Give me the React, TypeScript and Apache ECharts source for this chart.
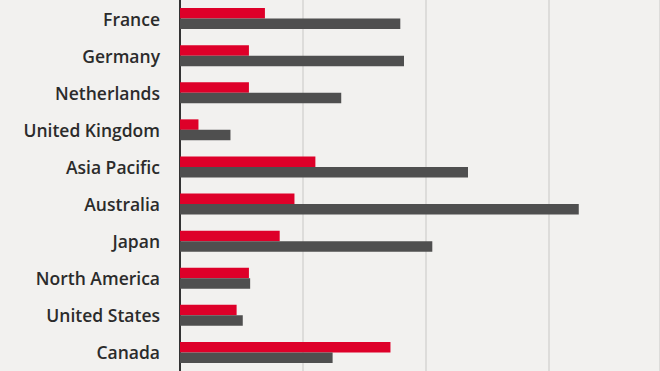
import React, { useEffect, useRef } from "react";
import * as echarts from "echarts";

const categories = [
  "France",
  "Germany",
  "Netherlands",
  "United Kingdom",
  "Asia Pacific",
  "Australia",
  "Japan",
  "North America",
  "United States",
  "Canada",
];
const redValues = [6.9, 5.6, 5.6, 1.5, 11.0, 9.3, 8.1, 5.6, 4.6, 17.1];
const grayValues = [17.9, 18.2, 13.1, 4.1, 23.4, 32.4, 20.5, 5.7, 5.1, 12.4];

export default function App() {
  const ref = useRef<HTMLDivElement>(null);
  useEffect(() => {
    if (!ref.current) return;
    const chart = echarts.init(ref.current, undefined, { renderer: "svg" });
    chart.setOption({
      animation: false,
      backgroundColor: "#f2f1ef",
      grid: { left: 180, right: 0, top: 0, bottom: -3.4, containLabel: false },
      xAxis: {
        type: "value",
        min: 0,
        max: 39,
        interval: 10,
        axisLabel: { show: false },
        axisLine: { show: false },
        axisTick: { show: false },
        splitLine: { show: true, lineStyle: { color: "#d6d5d3", width: 1.5 } },
      },
      yAxis: {
        type: "category",
        data: categories,
        inverse: true,
        axisLine: { show: true, lineStyle: { color: "#333333", width: 2 } },
        axisTick: { show: false },
        axisLabel: {
          margin: 20,
          color: "#2b2b2b",
          fontFamily: "Open Sans",
          fontWeight: 600,
          fontSize: 17.5,
          padding: [0, 0, 3, 0],
        },
      },
      series: [
        {
          type: "bar",
          data: redValues,
          barWidth: 10.5,
          barGap: "0%",
          itemStyle: { color: "#de0029" },
        },
        {
          type: "bar",
          data: grayValues,
          barWidth: 10.5,
          barGap: "0%",
          itemStyle: { color: "#4f4f4f" },
        },
      ],
    });
    return () => chart.dispose();
  }, []);
  return (
    <div
      ref={ref}
      style={{ position: "absolute", left: 0, top: 0, width: 660, height: 371 }}
    />
  );
}
